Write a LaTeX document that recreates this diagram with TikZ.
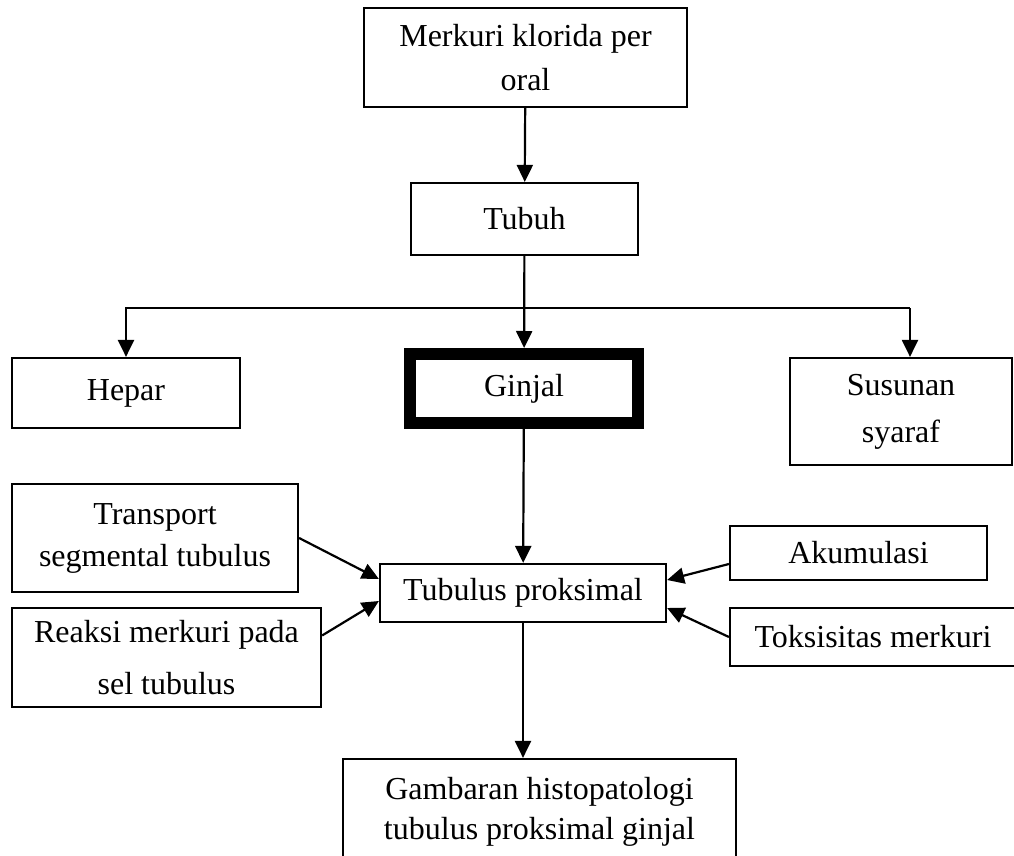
\documentclass[tikz,border=0pt]{standalone}
\usepackage{fontspec}
\setmainfont{Liberation Serif}
\usepackage{tikz}
\usetikzlibrary{arrows.meta}

\begin{document}
\begin{tikzpicture}[x=1pt, y=-1pt,
     box/.style={rectangle, draw, line width=2.2pt, inner sep=0pt, align=center,
                 font=\fontsize{32}{44}\selectfont},
     arr/.style={-{Triangle[length=17pt,width=16pt]}, line width=2.2pt}]
     \useasboundingbox (0,0) rectangle (1014,856);

     \node[box, minimum width=323, minimum height=99] (merkuri) at (525.5,57.5) {Merkuri klorida per\\oral};
     \node[box, minimum width=227, minimum height=72] (tubuh) at (524.5,219) {Tubuh};
     \node[box, minimum width=228, minimum height=70] (hepar) at (126,393) {Hepar};
     \node[box, line width=12pt, minimum width=228, minimum height=69] (ginjal) at (524,388.5) {Ginjal};
     \node[box, minimum width=222, minimum height=107, font=\fontsize{32}{47}\selectfont] (susunan) at (901,411.5) {Susunan\\syaraf};
     \node[box, minimum width=286, minimum height=108, font=\fontsize{32}{42}\selectfont] (transport) at (155,538) {Transport\\segmental tubulus};
     \node[box, minimum width=286, minimum height=58] (tubulus) at (523,593) {Tubulus proksimal};
     \node[box, minimum width=309, minimum height=99, font=\fontsize{32}{52}\selectfont] (reaksi) at (166.5,657.5) {Reaksi merkuri pada\\sel tubulus};
     \node[box, minimum width=257, minimum height=54] (akumulasi) at (858.5,553) {Akumulasi};
     \node[box, minimum width=286, minimum height=58] (toksisitas) at (873,637) {Toksisitas merkuri};
     \node[box, minimum width=393, minimum height=106, font=\fontsize{32}{40}\selectfont] (gambaran) at (539.5,812) {Gambaran histopatologi\\tubulus proksimal ginjal};

     \coordinate (cabang) at (524,308);
     \coordinate (kanan) at (910,308);

     \draw[arr] (merkuri) -- (tubuh);
     \draw[arr] (tubuh) -- (ginjal);
     \draw[arr] (cabang) -| (hepar);
     \draw[line width=2.2pt] (cabang) -- (kanan);
     \draw[arr] (kanan) -- (kanan |- susunan.north);
     \draw[arr] (ginjal) -- (tubulus);
     \draw[arr] (transport.east) -- ([yshift=14pt]tubulus.west);
     \draw[arr] ([yshift=22pt]reaksi.east) -- ([yshift=-8pt]tubulus.west);
     \draw[arr] ([yshift=-11pt]akumulasi.west) -- ([yshift=13pt]tubulus.east);
     \draw[arr] (toksisitas.west) -- ([yshift=-15pt]tubulus.east);
     \draw[arr] (tubulus.south) -- (tubulus.south |- gambaran.north);
 \end{tikzpicture}
\end{document}
